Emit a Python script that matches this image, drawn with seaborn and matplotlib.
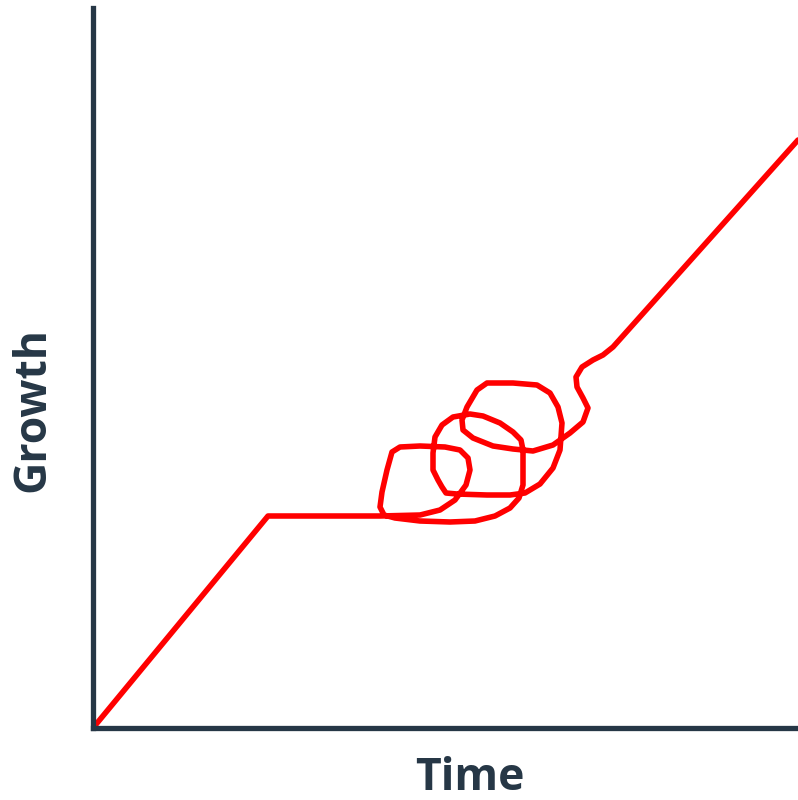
import matplotlib.pyplot as plt
import seaborn as sns
import pandas as pd

# hand-drawn growth path (time, growth)
time = [0, 175, 287, 327, 347, 362, 373, 377, 375, 367, 352, 327, 307, 299,
        294, 289, 287, 291, 302, 327, 357, 382, 402, 417, 426, 430, 430, 430,
        428, 420, 407, 390, 377, 360, 349, 342, 340, 340, 345, 349, 353, 364,
        394, 417, 432, 447, 460, 467, 469, 465, 457, 444, 420, 394, 384, 374,
        369, 370, 380, 400, 420, 440, 460, 477, 490, 495, 490, 484, 483, 489,
        500, 510, 520, 705]
growth = [0, 212, 212, 213, 218, 228, 243, 258, 270, 278, 281, 282, 281, 276,
          258, 236, 221, 213, 210, 207, 206, 207, 212, 220, 230, 243, 258, 278,
          288, 296, 305, 312, 314, 311, 303, 291, 275, 258, 248, 241, 235, 234,
          233, 233, 235, 244, 260, 278, 305, 321, 335, 343, 345, 345, 338, 321,
          308, 298, 290, 282, 279, 277, 283, 295, 306, 320, 330, 341, 351, 361,
          368, 373, 381, 588]

ink = '#263746'

sns.set_style('white')
plt.rcParams['font.family'] = ['Open Sans', 'DejaVu Sans']

fig = plt.figure(figsize=(7.98, 8.0), dpi=100)
ax = fig.add_axes([93 / 798, 72 / 800, 705 / 798, 720 / 800])

df = pd.DataFrame({'Time': time, 'Growth': growth})
sns.lineplot(data=df, x='Time', y='Growth', sort=False, estimator=None,
             color='#ff0000', linewidth=4.0, ax=ax,
             solid_joinstyle='round', solid_capstyle='round')

ax.set_xlim(0, 705)
ax.set_ylim(0, 720)
ax.set_xticks([])
ax.set_yticks([])
ax.set_xlabel('')
ax.set_ylabel('')
for side in ['top', 'right']:
    ax.spines[side].set_visible(False)
for side in ['left', 'bottom']:
    ax.spines[side].set_color(ink)
    ax.spines[side].set_linewidth(3.8)

fig.text(470 / 798, 1 - 778 / 800, 'Time', ha='center', va='center',
         fontsize=32, fontweight='bold', color=ink)
fig.text(33 / 798, 1 - 410 / 800, 'Growth', ha='center', va='center',
         rotation=90, fontsize=32, fontweight='bold', color=ink)

fig.savefig('out.png', dpi=100)
